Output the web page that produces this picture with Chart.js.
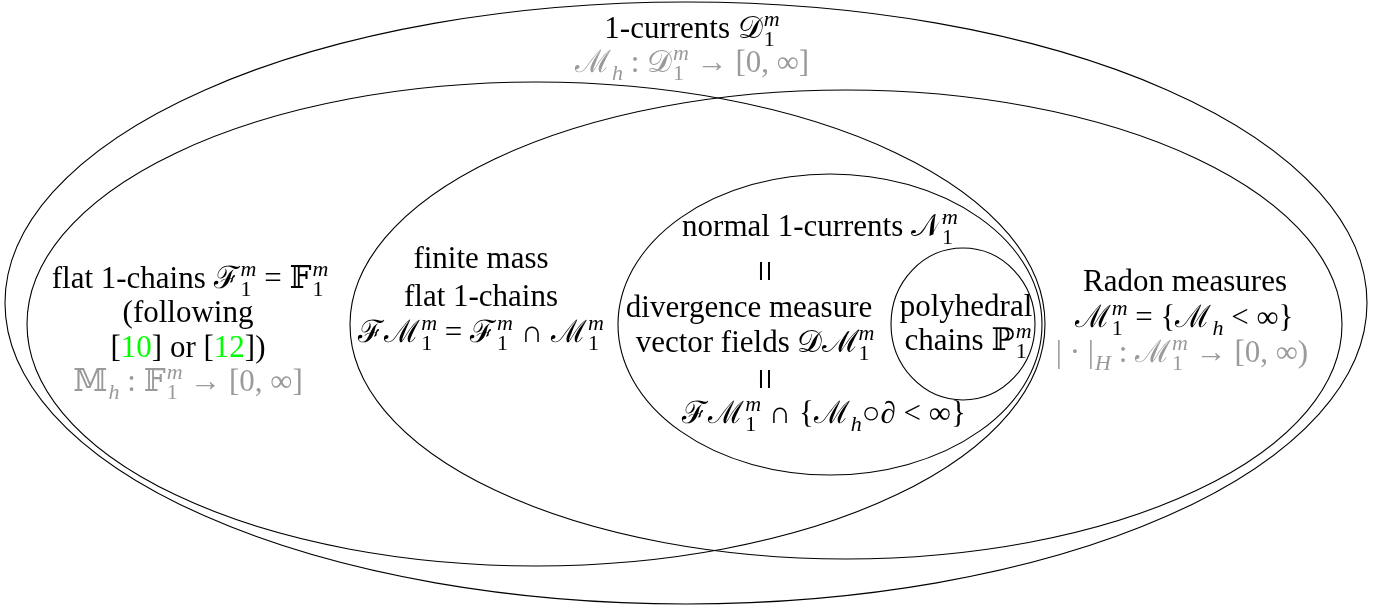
<!DOCTYPE html>
<html>
<head>
<meta charset="utf-8">
<script src="https://cdn.jsdelivr.net/npm/chart.js@4.4.0/dist/chart.umd.min.js"></script>
<style>
  html, body { margin: 0; padding: 0; background: #fff; }
  #wrap { width: 1385px; height: 606px; position: relative; }
</style>
</head>
<body>
<div id="wrap"><canvas id="myChart"></canvas></div>
<script>
// the sets, each one an ellipse (centre + radii in diagram units, y grows downward)
const setNames = ['1-currents', 'flat 1-chains', 'Radon measures', 'normal 1-currents', 'polyhedral chains'];
const setCx = [686, 536, 846, 830, 963];
const setCy = [303, 324, 324.5, 324.5, 324];
const setRx = [681, 509, 496, 212, 72];
const setRy = [301, 242, 234.5, 150.5, 76];

// text lines. ^ = superscript, _ = subscript, #{..} = green reference, @ = rotated "="
const labelText = [
    '1-currents 𝒟^m_1',
    'ℳ_h : 𝒟^m_1 → [0, ∞]',
    'flat 1-chains ℱ^m_1 = 𝔽^m_1',
    '(following',
    '[#{10}] or [#{12}])',
    '𝕄_h : 𝔽^m_1 → [0, ∞]',
    'finite mass',
    'flat 1-chains',
    'ℱℳ^m_1 = ℱ^m_1 ∩ ℳ^m_1',
    'normal 1-currents 𝒩^m_1',
    '@',
    'divergence measure',
    'vector fields 𝒟ℳ^m_1',
    '@',
    'ℱℳ^m_1 ∩ {ℳ_h○∂ < ∞}',
    'polyhedral',
    'chains ℙ^m_1',
    'Radon measures',
    'ℳ^m_1 = {ℳ_h < ∞}',
    '| · |_H : ℳ^m_1 → [0, ∞)'
];
const labelX = [692, 692, 190, 188, 188, 188, 481, 481, 481, 820, 761, 749, 755, 761, 824, 966, 968, 1185, 1184, 1182];
const labelY = [38, 72, 288, 322, 357, 391, 268, 306, 342, 236, 281, 317, 352, 389, 423, 316, 350, 291, 327, 362];
const labelGray = [false, true, false, false, false, true, false, false, false, false, false, false, false, false, false, false, false, false, false, true];

const FONT = '"Liberation Serif", "DejaVu Serif", serif';
const SIZE = 31;

function parseRich(s) {
    const out = [];
    let i = 0, buf = '';
    const flush = () => { if (buf) { out.push({ t: 'n', s: buf }); buf = ''; } };
    const grab = () => {
        if (s[i] === '{') {
            const j = s.indexOf('}', i);
            const a = s.slice(i + 1, j);
            i = j + 1;
            return a;
        }
        const ch = String.fromCodePoint(s.codePointAt(i));
        i += ch.length;
        return ch;
    };
    while (i < s.length) {
        const c = s[i];
        if (c === '^' || c === '_') {
            flush(); i++;
            let sup = null, sub = null;
            if (c === '^') sup = grab(); else sub = grab();
            if (s[i] === '^' || s[i] === '_') {
                const c2 = s[i]; i++;
                if (c2 === '^') sup = grab(); else sub = grab();
            }
            out.push({ t: 'ss', sup: sup, sub: sub });
        } else if (c === '#') {
            flush(); i++;
            out.push({ t: 'g', s: grab() });
        } else {
            buf += c; i++;
        }
    }
    flush();
    return out;
}

function smallFont(str) {
    const ital = /[a-zA-Z]/.test(str) ? 'italic ' : '';
    return ital + Math.round(SIZE * 0.7) + 'px ' + FONT;
}

function drawRich(ctx, str, x, y, color) {
    ctx.save();
    ctx.translate(x, y);
    ctx.fillStyle = color;
    ctx.textBaseline = 'alphabetic';
    ctx.textAlign = 'left';
    if (str === '@') {
        // vertical "=" between equivalent descriptions
        ctx.rotate(Math.PI / 2);
        ctx.font = Math.round(SIZE * 1.25) + 'px ' + FONT;
        ctx.textAlign = 'center';
        ctx.fillText('=', -10, 10);
        ctx.restore();
        return;
    }
    const items = parseRich(str);
    const normal = SIZE + 'px ' + FONT;
    let total = 0;
    items.forEach(it => {
        if (it.t === 'ss') {
            let w = 0;
            if (it.sup) { ctx.font = smallFont(it.sup); w = Math.max(w, ctx.measureText(it.sup).width); }
            if (it.sub) { ctx.font = smallFont(it.sub); w = Math.max(w, ctx.measureText(it.sub).width); }
            it.w = w + 1;
        } else {
            ctx.font = normal;
            it.w = ctx.measureText(it.s).width;
        }
        total += it.w;
    });
    let cx = -total / 2;
    items.forEach(it => {
        if (it.t === 'ss') {
            if (it.sup) { ctx.font = smallFont(it.sup); ctx.fillText(it.sup, cx + 1, -SIZE * 0.38); }
            if (it.sub) { ctx.font = smallFont(it.sub); ctx.fillText(it.sub, cx + 1, SIZE * 0.27); }
        } else {
            ctx.font = normal;
            ctx.fillStyle = it.t === 'g' ? '#00ff00' : color;
            ctx.fillText(it.s, cx, 0);
            ctx.fillStyle = color;
        }
        cx += it.w;
    });
    ctx.restore();
}

const vennPlugin = {
    id: 'venn',
    afterDatasetsDraw(chart) {
        const ctx = chart.ctx;
        const xs = chart.scales.x, ys = chart.scales.y;
        ctx.save();
        ctx.strokeStyle = '#000';
        ctx.lineWidth = 1.1;
        for (let k = 0; k < setCx.length; k++) {
            const px = xs.getPixelForValue(setCx[k]);
            const py = ys.getPixelForValue(setCy[k]);
            const rx = Math.abs(xs.getPixelForValue(setCx[k] + setRx[k]) - px);
            const ry = Math.abs(ys.getPixelForValue(setCy[k] + setRy[k]) - py);
            ctx.beginPath();
            ctx.ellipse(px, py, rx, ry, 0, 0, Math.PI * 2);
            ctx.stroke();
        }
        ctx.restore();
        for (let k = 0; k < labelText.length; k++) {
            drawRich(ctx, labelText[k], xs.getPixelForValue(labelX[k]), ys.getPixelForValue(labelY[k]),
                labelGray[k] ? '#9a9a9a' : '#000');
        }
    }
};

var ctx = document.getElementById('myChart').getContext('2d');
var myChart = new Chart(ctx, {
    type: 'scatter',
    data: {
        labels: setNames,
        datasets: [{
            label: 'sets',
            data: setCx.map((v, i) => ({ x: v, y: setCy[i] })),
            pointRadius: 0
        }]
    },
    options: {
        responsive: true,
        maintainAspectRatio: false,
        animation: false,
        layout: { padding: 0 },
        plugins: { legend: { display: false }, tooltip: { enabled: false } },
        scales: {
            x: { type: 'linear', min: 0, max: 1385, display: false },
            y: { type: 'linear', min: 0, max: 606, reverse: true, display: false }
        }
    },
    plugins: [vennPlugin]
});
</script>
</body>
</html>
